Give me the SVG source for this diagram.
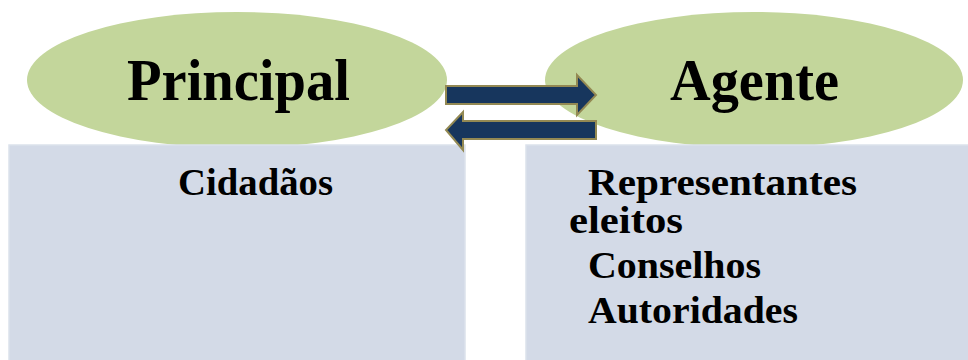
<svg xmlns="http://www.w3.org/2000/svg" width="968" height="360" viewBox="0 0 968 360">
<style>
.ell{fill:#C3D69B;}
.box{fill:#D3DAE7;stroke:#DCE2EC;stroke-width:1.5;}
.arr{fill:#17365D;stroke:#938953;stroke-width:2;stroke-linejoin:miter;}
.big{font-family:"Liberation Serif",serif;font-weight:bold;font-size:60px;fill:#000;}
.txt{font-family:"Liberation Serif",serif;font-weight:bold;font-size:37px;fill:#000;}
</style>
<rect width="968" height="360" fill="#fff"/>
<g id="principal">
<ellipse class="ell" cx="237" cy="80" rx="210" ry="68"/>
<text class="big" x="127" y="100" textLength="223" lengthAdjust="spacingAndGlyphs">Principal</text>
</g>
<g id="agente">
<ellipse class="ell" cx="754" cy="80" rx="209" ry="68"/>
<text class="big" x="670" y="100" textLength="169" lengthAdjust="spacingAndGlyphs">Agente</text>
</g>
<g id="cidadaos">
<rect class="box" x="9" y="145" width="456" height="220"/>
<text class="txt" x="178" y="195" textLength="155" lengthAdjust="spacingAndGlyphs">Cidadãos</text>
</g>
<g id="agentes-lista">
<rect class="box" x="526" y="145" width="448" height="220"/>
<text class="txt" x="588" y="195" textLength="269" lengthAdjust="spacingAndGlyphs">Representantes</text>
<text class="txt" x="569" y="233" textLength="114" lengthAdjust="spacingAndGlyphs">eleitos</text>
<text class="txt" x="588" y="278" textLength="173" lengthAdjust="spacingAndGlyphs">Conselhos</text>
<text class="txt" x="588" y="323" textLength="210" lengthAdjust="spacingAndGlyphs">Autoridades</text>
</g>
<g id="connectors">
<path class="arr" d="M446 86 L577 86 L577 75 L596 95 L577 115 L577 104 L446 104 Z"/>
<path class="arr" d="M596 121 L463 121 L463 112 L446 130 L463 150 L463 139 L596 139 Z"/>
</g>
</svg>
